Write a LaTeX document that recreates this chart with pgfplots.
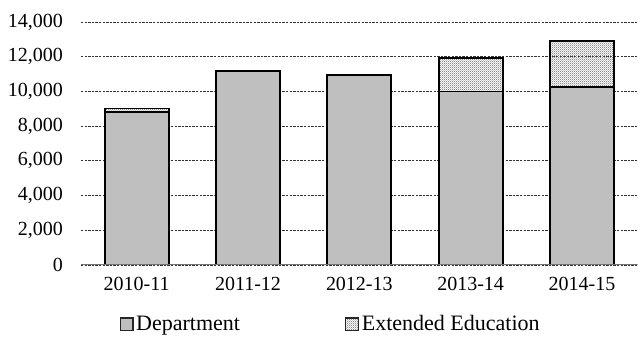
\documentclass[border=0pt]{standalone}
\usepackage{fontspec}
\setmainfont{Liberation Serif}
\usepackage{pgfplots}
\pgfplotsset{compat=1.18}
\usetikzlibrary{patterns}
\pgfdeclarepatternformonly{finechecker}{\pgfpointorigin}{\pgfpoint{1.6pt}{1.6pt}}{\pgfpoint{1.6pt}{1.6pt}}{%
  \pgfpathrectangle{\pgfpointorigin}{\pgfpoint{0.8pt}{0.8pt}}%
  \pgfpathrectangle{\pgfpoint{0.8pt}{0.8pt}}{\pgfpoint{0.8pt}{0.8pt}}%
  \pgfusepath{fill}}
\definecolor{depgray}{RGB}{191,191,191}
\begin{document}
\begin{tikzpicture}
\path (-60.75pt,-57.75pt) rectangle (417.75pt,198.75pt);
\begin{axis}[
  at={(0,0)}, anchor=south west,
  scale only axis, width=417.75pt, height=182.25pt,
  ybar stacked, bar width=48pt,
  xmin=-0.5, xmax=4.5, ymin=0, ymax=14000,
  xtick={0,1,2,3,4},
  xticklabels={2010-11,2011-12,2012-13,2013-14,2014-15},
  ytick={0,2000,4000,6000,8000,10000,12000,14000},
  scaled y ticks=false,
  /pgf/number format/.cd, fixed, 1000 sep={,}, assume math mode=true,
  /pgfplots/.cd,
  tick style={draw=none},
  ymajorgrids, major grid style={black!80, line width=0.5pt, dash pattern=on 1.8pt off 0.9pt},
  axis line style={draw=none},
  tick label style={font=\fontsize{15}{17}\selectfont},
  xticklabel style={yshift=-6pt},
  yticklabel style={xshift=-10pt},
  legend style={draw=none, at={(0.449,-0.245)}, anchor=center,
    font=\fontsize{16.5}{18}\selectfont, legend columns=2,
    /tikz/every even column/.append style={column sep=77pt}},
  legend cell align=left,
]
\draw[black!55, line width=1pt] (axis cs:-0.5,0) -- (axis cs:4.5,0);
\addplot[fill=depgray, draw=black, line width=1.4pt,
  legend image code/.code={\draw[fill=depgray, draw=black!85, line width=0.9pt] (0pt,-4.8pt) rectangle (9.6pt,4.8pt);}]
  coordinates {(0,8800) (1,11180) (2,10950) (3,9990) (4,10260)};
\addlegendentry{Department}
\addplot[pattern=finechecker, pattern color=black!45, draw=black, line width=1.4pt,
  legend image code/.code={\draw[pattern=finechecker, pattern color=black!45, draw=black!85, line width=0.9pt] (0pt,-4.8pt) rectangle (9.6pt,4.8pt);}]
  coordinates {(0,210) (1,0) (2,0) (3,1940) (4,2640)};
\addlegendentry{Extended Education}
\end{axis}
\end{tikzpicture}
\end{document}
